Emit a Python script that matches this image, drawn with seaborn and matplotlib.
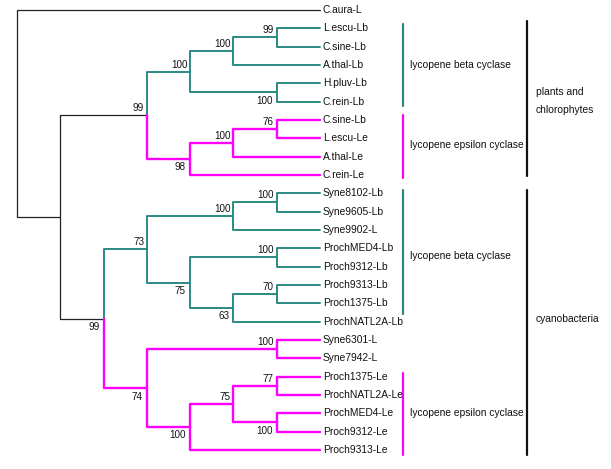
import numpy as np
import pandas as pd
import matplotlib
matplotlib.use("Agg")
import matplotlib.pyplot as plt
import seaborn as sns

# leaves, top to bottom
leaf_names = ["C.aura-L", "L.escu-Lb", "C.sine-Lb", "A.thal-Lb", "H.pluv-Lb", "C.rein-Lb",
              "C.sine-Lb", "L.escu-Le", "A.thal-Le", "C.rein-Le",
              "Syne8102-Lb", "Syne9605-Lb", "Syne9902-L", "ProchMED4-Lb", "Proch9312-Lb",
              "Proch9313-Lb", "Proch1375-Lb", "ProchNATL2A-Lb",
              "Syne6301-L", "Syne7942-L", "Proch1375-Le", "ProchNATL2A-Le", "ProchMED4-Le",
              "Proch9312-Le", "Proch9313-Le"]
leaf_clade = ["base"] + ["beta"] * 5 + ["eps"] * 4 + ["beta"] * 8 + ["eps"] * 7

# internal nodes (children are node ids or leaf ids "L<i>")
node_ids = ["root", "A", "P", "B1", "B1a", "B1aa", "B1b", "E1", "E1a", "E1aa",
            "C", "B2", "B2a", "B2aa", "B2b", "B2ba", "B2bb", "B2bba",
            "E2", "E2a", "E2b", "E2ba", "E2baa", "E2bab"]
node_children = [["L0", "A"], ["P", "C"], ["B1", "E1"], ["B1a", "B1b"], ["B1aa", "L3"],
                 ["L1", "L2"], ["L4", "L5"], ["E1a", "L9"], ["E1aa", "L8"], ["L6", "L7"],
                 ["B2", "E2"], ["B2a", "B2b"], ["B2aa", "L12"], ["L10", "L11"],
                 ["B2ba", "B2bb"], ["L13", "L14"], ["B2bba", "L17"], ["L15", "L16"],
                 ["E2a", "E2b"], ["L18", "L19"], ["E2ba", "L24"], ["E2baa", "E2bab"],
                 ["L20", "L21"], ["L22", "L23"]]
node_level = [0, 1, 3, 4, 5, 6, 6, 4, 5, 6,
              2, 3, 5, 6, 4, 6, 5, 6,
              3, 6, 4, 5, 6, 6]
node_support = [None, None, 99, 100, 100, 99, 100, 98, 100, 76,
                99, 73, 100, 100, 75, 100, 63, 70,
                74, 100, 100, 75, 77, 100]
node_side = ["", "", "up", "up", "up", "up", "down", "down", "up", "up",
             "down", "up", "up", "up", "down", "up", "down", "up",
             "down", "up", "down", "up", "up", "down"]
node_clade = ["base", "base", "base", "beta", "beta", "beta", "beta", "eps", "eps", "eps",
              "base", "beta", "beta", "beta", "beta", "beta", "beta", "beta",
              "eps", "eps", "eps", "eps", "eps", "eps"]

# group brackets: (first leaf, last leaf, label, clade)
group_spans = [(0.76, 5.24, "lycopene beta cyclase", "beta", 3.0),
               (5.73, 9.17, "lycopene epsilon cyclase", "eps", 7.37),
               (9.82, 16.58, "lycopene beta cyclase", "beta", 13.4),
               (19.8, 24.28, "lycopene epsilon cyclase", "eps", 22.0)]
taxon_spans = [(0.6, 9.06, ["plants and", "chlorophytes"], [4.47, 5.45]),
               (9.82, 24.28, ["cyanobacteria"], [16.86])]

colors = {"base": "#222222", "beta": "#2a8a82", "eps": "#ff00ff"}
widths = {"base": 0.9, "beta": 1.4, "eps": 1.7}
leaf_level = 7

# positions
pos = {}
for i, name in enumerate(leaf_names):
    pos["L%d" % i] = (leaf_level, float(i))
clade_of = {"L%d" % i: c for i, c in enumerate(leaf_clade)}
for nid, c in zip(node_ids, node_clade):
    clade_of[nid] = c


def node_y(nid):
    if nid in pos:
        return pos[nid][1]
    k = node_ids.index(nid)
    ys = [node_y(ch) for ch in node_children[k]]
    y = float(np.mean(ys))
    pos[nid] = (node_level[k], y)
    return y


node_y("root")

rows = []
seg = 0
for k, nid in enumerate(node_ids):
    xn, yn = pos[nid]
    for ch in node_children[k]:
        xc, yc = pos[ch]
        c = clade_of[ch]
        for x, y in [(xn, yn), (xn, yc), (xc, yc)]:
            rows.append({"x": x, "y": y, "seg": seg, "clade": c})
        seg += 1
segs = pd.DataFrame(rows)

sns.set_style("white")
plt.rcParams["font.family"] = ["Liberation Sans", "DejaVu Sans"]

fig = plt.figure(figsize=(6.11, 4.69), dpi=100)
ax = fig.add_axes([0, 0, 1, 1])
sns.lineplot(data=segs, x="x", y="y", units="seg", estimator=None, sort=False,
             hue="clade", palette=colors, size="clade", sizes=widths,
             legend=False, ax=ax)

fs = 7.4
for i, name in enumerate(leaf_names):
    ax.annotate(name, (leaf_level, i), xytext=(2, 0), textcoords="offset points",
                ha="left", va="center", fontsize=fs, color="#111111")

for k, nid in enumerate(node_ids):
    if node_support[k] is None:
        continue
    x, y = pos[nid]
    if node_side[k] == "up":
        ax.annotate(str(node_support[k]), (x, y), xytext=(-2, 1.5), textcoords="offset points",
                    ha="right", va="bottom", fontsize=fs - 0.3, color="#111111")
    else:
        ax.annotate(str(node_support[k]), (x, y), xytext=(-3, -2.5), textcoords="offset points",
                    ha="right", va="top", fontsize=fs - 0.3, color="#111111")

for y0, y1, label, c, ty in group_spans:
    ax.plot([8.92, 8.92], [y0, y1], color=colors[c], lw=1.6)
    ax.text(9.08, ty, label, ha="left", va="center", fontsize=fs, color="#111111")

for y0, y1, labels, tys in taxon_spans:
    ax.plot([11.78, 11.78], [y0, y1], color="#111111", lw=1.6)
    for lab, ty in zip(labels, tys):
        ax.text(11.98, ty, lab, ha="left", va="center", fontsize=fs, color="#111111")

ax.set_xlim(-17 / 43.29, (611 - 17) / 43.29)
ax.set_ylim((469 - 10) / 18.33, -10 / 18.33)
ax.axis("off")

fig.savefig("out.png", dpi=100)
